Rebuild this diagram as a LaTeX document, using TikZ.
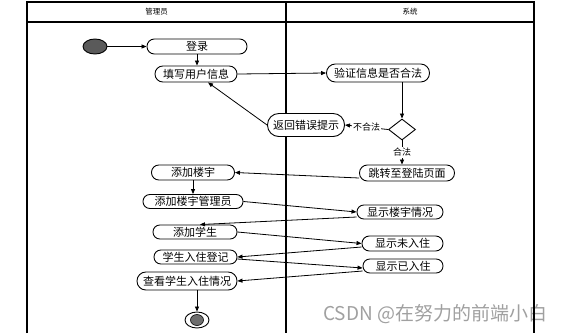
\documentclass[tikz,border=0pt]{standalone}
\usepackage{fontspec}
\setmainfont{Noto Sans CJK SC}
\usetikzlibrary{arrows.meta,shapes.geometric}
\definecolor{startgray}{RGB}{90,90,90}
\definecolor{endgray}{RGB}{110,110,110}
\definecolor{wmgray}{RGB}{160,160,160}
\tikzset{
  act/.style 2 args={draw, fill=white, line width=0.9pt, inner sep=0pt, font=\fontsize{11}{13}\selectfont,
    minimum width=#1, minimum height=#2, rounded corners=0.49*#2},
  arr/.style={line width=0.8pt, -{Triangle[length=5pt,width=4pt]}},
  lbl/.style={fill=white, inner sep=1pt, font=\fontsize{9}{10}\selectfont},
  frame/.style={line width=1.1pt},
  hdr/.style={font=\fontsize{7.5}{9}\selectfont, inner sep=0pt}
}
\begin{document}
\begin{tikzpicture}[x=1pt,y=-1pt]
\useasboundingbox (0,0) rectangle (567,333);
% watermark
\node[anchor=west, font=\fontsize{19}{22}\selectfont, text=wmgray, inner sep=0pt] (wm) at (323,314) {CSDN @在努力的前端小白};
% frame
\draw[frame] (27,333) -- (27,2) -- (534,2) -- (534,333);
\draw[frame] (27,22) -- (534,22);
\draw[frame] (286,2) -- (286,333);
\node[hdr] (h1) at (156.5,12) {管理员};
\node[hdr] (h2) at (410,12) {系统};
% nodes
\node[draw, ellipse, fill=startgray, line width=0.9pt, minimum width=24pt, minimum height=15pt, inner sep=0pt] (start) at (95,46.5) {};
\node[act={100pt}{15pt}] (login) at (197,46.5) {登录};
\node[act={82pt}{16pt}] (fillin) at (196,74) {填写用户信息};
\node[act={103pt}{18pt}] (verify) at (378,73) {验证信息是否合法};
\node[act={77pt}{23pt}] (ret) at (306,125) {返回错误提示};
\node[draw, diamond, fill=white, line width=0.9pt, minimum width=27pt, minimum height=21pt, inner sep=0pt] (dia) at (402,129.5) {};
\node[act={95pt}{16pt}] (jump) at (407,173) {跳转至登陆页面};
\node[act={83pt}{15pt}] (addb) at (193,172.5) {添加楼宇};
\node[act={100pt}{14pt}] (addbm) at (193,201.5) {添加楼宇管理员};
\node[act={86pt}{14pt}] (showb) at (400,212) {显示楼宇情况};
\node[act={84pt}{14pt}] (adds) at (195,232) {添加学生};
\node[act={81pt}{15pt}] (shown) at (402.5,243.5) {显示未入住};
\node[act={83pt}{14pt}] (reg) at (195.5,257) {学生入住登记};
\node[act={80pt}{14pt}] (showy) at (403,266) {显示已入住};
\node[act={100pt}{18pt}] (view) at (187,281) {查看学生入住情况};
\node[draw, ellipse, line width=0.9pt, minimum width=24pt, minimum height=16pt, inner sep=0pt] (endo) at (197,320) {};
\node[draw, ellipse, fill=endgray, line width=0.6pt, minimum width=13pt, minimum height=11pt, inner sep=0pt] (endi) at (197,320) {};
% edges
\draw[arr] (start) -- (login);
\draw[arr] (login.south) -- (login.south |- fillin.north);
\draw[arr] (fillin.east) -- (verify.west);
\draw[arr] (dia.north |- verify.south) -- (dia.north);
\draw[arr] (dia.west) -- node[lbl] {不合法} (ret.east);
\draw[arr] (ret.west) -- ([xshift=12pt]fillin.south);
\draw[arr] (dia.south) -- node[lbl] {合法} (dia.south |- jump.north);
\draw[arr] ([yshift=-5pt]jump.west) -- (addb.east);
\draw[arr] (addb) -- (addbm);
\draw[arr] (addbm.east) -- (showb.west);
\draw[arr] ([yshift=-5pt]showb.west) -- ([xshift=5pt]adds.north);
\draw[arr] (adds.east) -- (shown.west);
\draw[arr] ([yshift=-3.5pt]shown.west) -- (reg.east);
\draw[arr] ([yshift=-2pt]reg.east) -- ([yshift=-2pt]showy.west);
\draw[arr] ([yshift=-5pt]showy.west) -- (view.east);
\draw[arr] (endo.north |- view.south) -- (endo.north);
\end{tikzpicture}
\end{document}
